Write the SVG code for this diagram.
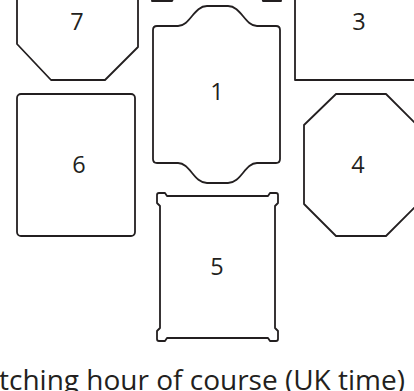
<svg xmlns="http://www.w3.org/2000/svg" width="414" height="391" viewBox="0 0 414 391">
<style>
.s{fill:none;stroke:#231f20;stroke-width:1.8;stroke-linejoin:round}
.l{font-family:"Open Sans","Noto Sans",sans-serif;font-size:23.5px;fill:#231f20;text-anchor:middle}
.t{font-family:"Open Sans","Noto Sans",sans-serif;font-size:28px;fill:#231f20}
</style>
<rect width="414" height="391" fill="#fff"/>
<g id="node-2">
<path class="s" d="M152,-3 L152,1 L172,1 L174,-3 M262,-3 L263,1 L281,1 L281,-3"/>
</g>
<g id="node-7">
<path class="s" d="M17,-2 L17,44 L51,80 L105,80 L138,47 L138,-2"/>
<text class="l" x="77" y="30">7</text>
</g>
<g id="node-3">
<path class="s" d="M295,-2 L295,80 L416,80"/>
<text class="l" x="359" y="30">3</text>
</g>
<g id="node-1">
<path class="s" d="M157,26 L178,26 C190,26 194,6 207,6 L228,6 C241,6 245,26 257,26 L276,26 Q280,26 280,30 L280,159 Q280,163 276,163 L257,163 C245,163 241,183 228,183 L207,183 C194,183 190,163 178,163 L157,163 Q153,163 153,159 L153,30 Q153,26 157,26 Z"/>
<text class="l" x="217" y="100">1</text>
</g>
<g id="node-6">
<rect class="s" x="17" y="94" width="118" height="142" rx="4"/>
<text class="l" x="79" y="173">6</text>
</g>
<g id="node-4">
<path class="s" d="M336,94 L386,94 L418,126 L418,204 L386,236 L336,236 L304,204 L304,125 Z"/>
<text class="l" x="358" y="173">4</text>
</g>
<g id="node-5">
<path class="s" d="M167,196 L268,196 L270,193 L276,193 Q278,193 278,195 L278,203 L275,206 L275,328 L278,331 L278,339 Q278,341 276,341 L270,341 L268,338 L167,338 L165,341 L159,341 Q157,341 157,339 L157,331 L160,328 L160,206 L157,203 L157,195 Q157,193 159,193 L165,193 Z"/>
<text class="l" x="217" y="275">5</text>
</g>
<g id="connectors"></g>
<text class="t" x="-1" y="390">tching hour of course (UK time)</text>
</svg>
